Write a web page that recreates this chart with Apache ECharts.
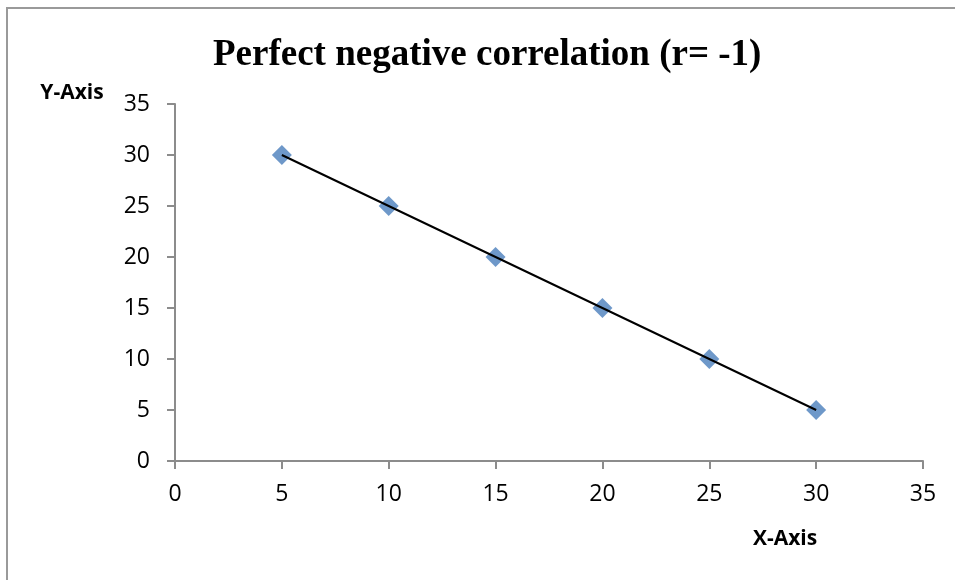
<!DOCTYPE html>
<html>
<head>
<meta charset="utf-8">
<script src="https://cdn.jsdelivr.net/npm/echarts@6/dist/echarts.min.js"></script>
<style>
  html, body { margin: 0; padding: 0; background: #fff; }
  #frame {
    position: absolute; left: 6px; top: 7px; width: 960px; height: 590px;
    border-left: 2px solid #9a9a9a; border-top: 2px solid #9a9a9a;
  }
  #chart { position: absolute; left: 0; top: 0; width: 955px; height: 580px; }
</style>
</head>
<body>
<div id="frame"></div>
<div id="chart"></div>
<script>
// data
var xValues = [5, 10, 15, 20, 25, 30];
var yValues = [30, 25, 20, 15, 10, 5];
var titleText = 'Perfect negative correlation (r= -1)';
var xName = 'X-Axis';
var yName = 'Y-Axis';

var points = xValues.map(function (x, i) { return [x, yValues[i]]; });

var chart = echarts.init(document.getElementById('chart'), null, { renderer: 'canvas' });

var labelFont = { color: '#000', fontSize: 23, fontFamily: 'Open Sans, Liberation Sans, sans-serif' };
var axisGray = '#8c8c8c';

chart.setOption({
    animation: false,
    backgroundColor: 'transparent',
    title: {
        text: titleText,
        left: 208,
        top: 32,
        textStyle: {
            fontFamily: 'Liberation Serif, serif',
            fontWeight: 'bold',
            fontSize: 37,
            color: '#000'
        }
    },
    grid: { left: 175, right: 32, top: 104, bottom: 119 },
    xAxis: {
        type: 'value',
        min: 0, max: 35, interval: 5,
        name: xName,
        nameLocation: 'end',
        nameGap: 0,
        nameTextStyle: {
            fontFamily: 'Open Sans, Liberation Sans, sans-serif',
            fontWeight: 'bold', fontSize: 21, color: '#000',
            align: 'center', verticalAlign: 'top',
            padding: [68, 276, 0, 0]
        },
        axisLine: { lineStyle: { color: axisGray, width: 2 } },
        axisTick: { length: 8, lineStyle: { color: axisGray, width: 2 } },
        axisLabel: Object.assign({ margin: 22 }, labelFont),
        splitLine: { show: false }
    },
    yAxis: {
        type: 'value',
        min: 0, max: 35, interval: 5,
        name: yName,
        nameLocation: 'end',
        nameGap: 0,
        nameTextStyle: {
            fontFamily: 'Open Sans, Liberation Sans, sans-serif',
            fontWeight: 'bold', fontSize: 21, color: '#000',
            align: 'center', verticalAlign: 'bottom',
            padding: [0, 206, 0, 0]
        },
        axisLine: { show: true, lineStyle: { color: axisGray, width: 2 } },
        axisTick: { show: true, length: 8, lineStyle: { color: axisGray, width: 2 } },
        axisLabel: Object.assign({ margin: 25 }, labelFont),
        splitLine: { show: false }
    },
    series: [
        {
            type: 'scatter',
            data: points,
            symbol: 'diamond',
            symbolSize: [20, 20],
            itemStyle: { color: '#4a7ebb' },
            z: 2
        },
        {
            // linear trend line through the points
            type: 'line',
            data: points,
            symbol: 'none',
            lineStyle: { color: '#000', width: 2 },
            z: 3
        }
    ]
});
</script>
</body>
</html>
